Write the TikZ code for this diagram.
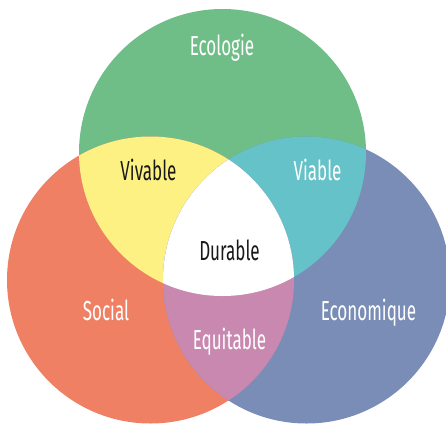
\documentclass[tikz,border=0pt]{standalone}
\usepackage{fontspec}
\setmainfont[FakeStretch=0.62]{Fira Sans}
\definecolor{cgreen}{HTML}{6FBD87}
\definecolor{cred}{HTML}{F08064}
\definecolor{cblue}{HTML}{7A8DB7}
\definecolor{cyellow}{HTML}{FEF184}
\definecolor{cteal}{HTML}{65C2C9}
\definecolor{cpink}{HTML}{C988AF}
\tikzset{
  lbl/.style={font=\fontsize{27.5}{30}\selectfont, inner sep=0pt, anchor=base},
  wlbl/.style={lbl, text=white},
  blbl/.style={lbl, text=black!90}
}
\begin{document}
\begin{tikzpicture}[x=1pt,y=-1pt]
\useasboundingbox (0,0) rectangle (446,423);
\clip (0,0) rectangle (446,423);
\def\G{(222.5,152.5) circle[radius=143.5]}
\def\R{(150.5,280) circle[radius=143.5]}
\def\B{(306.5,280) circle[radius=143.5]}
\fill[cgreen] \G;
\fill[cred] \R;
\fill[cblue] \B;
\begin{scope}\clip \G; \fill[cyellow] \R; \end{scope}
\begin{scope}\clip \G; \fill[cteal] \B; \end{scope}
\begin{scope}\clip \R; \fill[cpink] \B; \end{scope}
\begin{scope}\clip \G; \clip \R; \fill[white] \B; \end{scope}
\node[wlbl] (eco) at (222,55) {Ecologie};
\node[blbl] (viv) at (148.5,180) {Vivable};
\node[wlbl] (via) at (317.5,180) {Viable};
\node[blbl] (dur) at (229.5,260) {Durable};
\node[wlbl] (soc) at (106,320) {Social};
\node[wlbl] (econ) at (368.5,320) {Economique};
\node[wlbl] (equ) at (229.5,349) {Equitable};
\end{tikzpicture}
\end{document}
